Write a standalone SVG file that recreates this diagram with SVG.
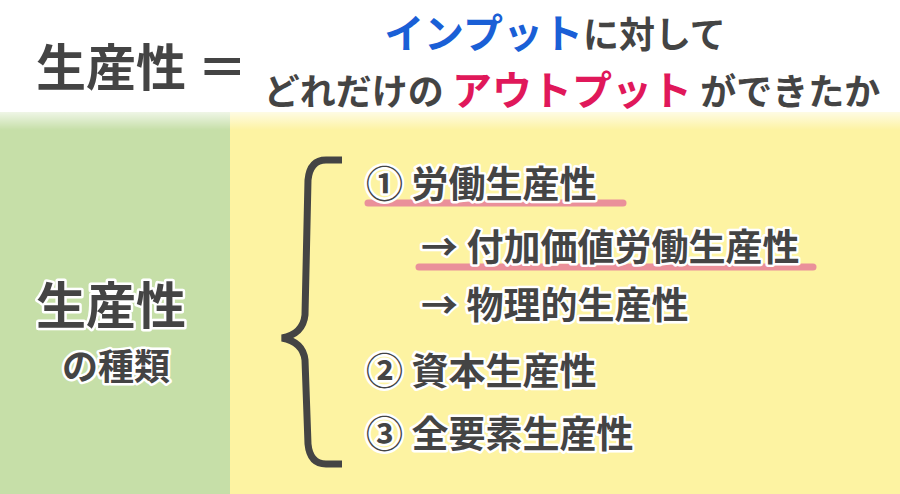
<svg xmlns="http://www.w3.org/2000/svg" width="900" height="494" viewBox="0 0 900 494">
<style>
text{font-family:"Noto Sans CJK JP","Noto Sans",sans-serif;font-weight:700;fill:#444}
.it{font-size:37px;stroke:#fff;stroke-width:5;paint-order:stroke;stroke-linejoin:round}
.ul{stroke:#e8869a;stroke-width:7;stroke-linecap:round;opacity:0.9}
</style>
<defs>
<linearGradient id="fade" x1="0" y1="0" x2="0" y2="1"><stop offset="0" stop-color="#fff" stop-opacity="1"/><stop offset="1" stop-color="#fff" stop-opacity="0"/></linearGradient>
</defs>
<rect width="900" height="494" fill="#fff"/>
<rect x="0" y="112" width="230" height="382" fill="#c6dfa8"/>
<rect x="230" y="112" width="670" height="382" fill="#fdf3a2"/>
<rect x="0" y="105" width="900" height="25" fill="url(#fade)"/>
<g id="title">
<text x="36" y="86" font-size="50">生産性 ＝</text>
<text x="555" y="48" font-size="40" text-anchor="middle"><tspan fill="#1a5fd6">インプット</tspan><tspan font-size="36">に対して</tspan></text>
<text x="572" y="105" font-size="36" text-anchor="middle">どれだけの <tspan fill="#e0185a" font-size="40">アウトプット</tspan> ができたか</text>
</g>
<g id="left">
<text x="36" y="324" class="it" style="font-size:50px">生産性</text>
<text x="62" y="380" class="it" style="font-size:36px">の種類</text>
</g>
<g id="connectors">
<path d="M342,160 H326 Q310,160 308,180 L305,315 Q303,334 282,338 Q303,342 305,360 L308,444 Q310,464 326,464 H342" fill="none" stroke="#444" stroke-width="7"/>
<line class="ul" x1="368" y1="203" x2="623" y2="203"/>
<line class="ul" x1="419" y1="267" x2="813" y2="267"/>
</g>
<g id="items">
<text x="366" y="198" class="it">① 労働生産性</text>
<text x="421" y="261" class="it">→ 付加価値労働生産性</text>
<text x="421" y="319" class="it">→ 物理的生産性</text>
<text x="366" y="385" class="it">② 資本生産性</text>
<text x="366" y="448" class="it">③ 全要素生産性</text>
</g>
</svg>
